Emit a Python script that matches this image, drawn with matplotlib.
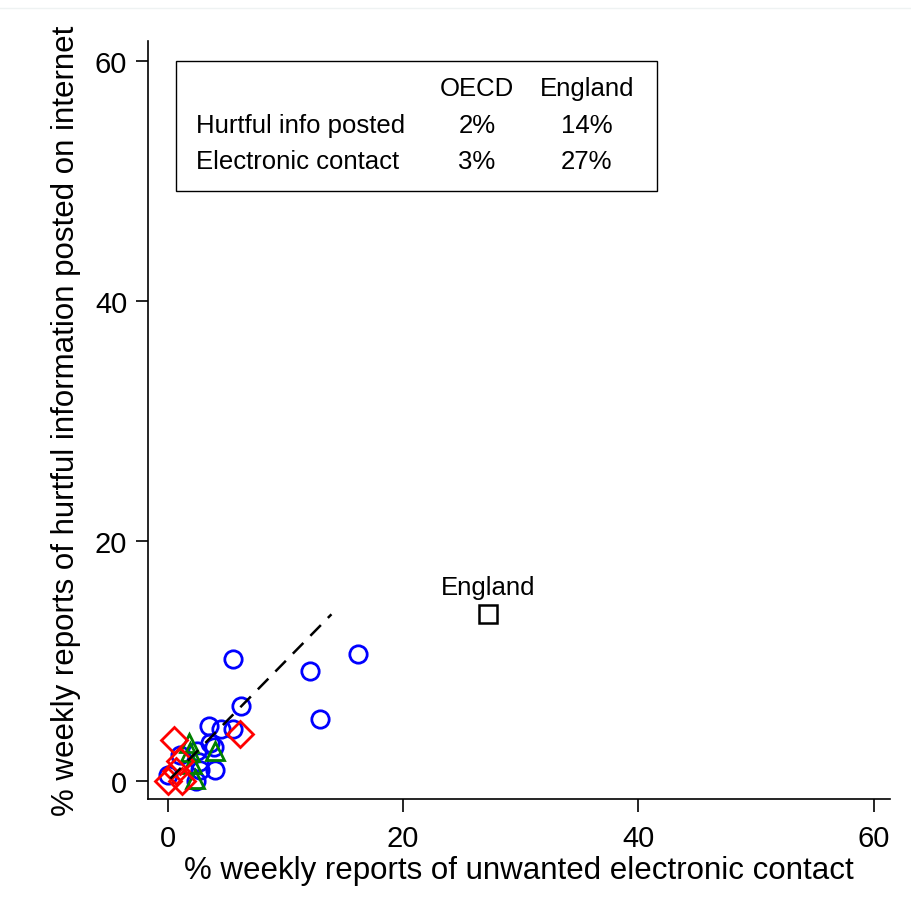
import matplotlib
matplotlib.use("Agg")
import matplotlib.pyplot as plt
from matplotlib.lines import Line2D

plt.rcParams['font.family'] = ['Liberation Sans', 'DejaVu Sans']

# Data (percent weekly reports)
blue_x = [5.5, 12.1, 16.2, 12.9, 6.2, 3.5, 4.55, 5.5, 3.55, 3.9, 4.0, 2.6, 2.7, 2.4, 0.0, 1.0, 2.5]
blue_y = [10.2, 9.2, 10.6, 5.2, 6.25, 4.6, 4.3, 4.3, 3.2, 2.8, 0.9, 1.6, 0.9, 0.0, 0.5, 2.2, 2.5]
green_x = [1.8, 4.0, 1.9, 2.0, 2.3]
green_y = [3.2, 2.5, 2.4, 1.4, 0.2]
red_x = [0.5, 6.1, 1.0, 0.0, 1.2, 0.7]
red_y = [3.4, 3.9, 1.7, 0.0, 0.0, 0.8]
england_x = [27.2]
england_y = [13.9]
fit_x = [0.2, 13.9]
fit_y = [0.2, 13.9]

ticks = [0, 20, 40, 60]
col_headers = ["OECD", "England"]
row_labels = ["Hurtful info posted", "Electronic contact"]
table_vals = [["2%", "14%"], ["3%", "27%"]]

fig = plt.figure(figsize=(9.12, 9.2), dpi=100)
ax = fig.add_axes([148/912, 1-800/920, (890-148)/912, (800-42)/920])

ms = 12.5
mew = 2.0
ax.plot(blue_x, blue_y, 'o', ms=ms, mfc='none', mec='#0000ff', mew=mew, zorder=3)
ax.plot(green_x, green_y, '^', ms=ms+1, mfc='none', mec='#008000', mew=mew, zorder=3)
ax.plot(red_x, red_y, 'D', ms=ms+0.5, mfc='none', mec='#ff0000', mew=mew, zorder=4)
ax.plot(england_x, england_y, 's', ms=ms, mfc='none', mec='black', mew=1.8, zorder=4)
ax.plot(fit_x, fit_y, color='black', lw=1.8, dashes=(6, 4), zorder=5)
ax.annotate("England", (england_x[0], england_y[0]), xytext=(0, 11),
            textcoords='offset points', ha='center', va='bottom', fontsize=18.5)

ax.set_xlim(-1.7, 61.4)
ax.set_ylim(-1.5, 61.7)
ax.set_xticks(ticks)
ax.set_yticks(ticks)
ax.tick_params(labelsize=21, length=9, width=1.2, direction='out', pad=6)
ax.tick_params(axis='x', pad=9)
ax.spines['top'].set_visible(False)
ax.spines['right'].set_visible(False)
for s in ['left', 'bottom']:
    ax.spines[s].set_linewidth(1.2)
ax.set_xlabel("% weekly reports of unwanted electronic contact", fontsize=22.5, labelpad=2)
ax.set_ylabel("% weekly reports of hurtful information posted on internet", fontsize=22.5, labelpad=10)

# Legend-like table box
box = plt.Rectangle((176/912, 1-192/920), (657-176)/912, (192-62)/920,
                    transform=fig.transFigure, fill=False, ec='black', lw=1.0, zorder=6)
fig.patches.append(box)
col_x = [477, 587]
row_y = [126, 162]
for j, h in enumerate(col_headers):
    fig.text(col_x[j]/912, 1-89/920, h, ha='center', va='center', fontsize=18.5)
for i, lab in enumerate(row_labels):
    fig.text(196/912, 1-row_y[i]/920, lab, ha='left', va='center', fontsize=18.5)
    for j in range(2):
        fig.text(col_x[j]/912, 1-row_y[i]/920, table_vals[i][j], ha='center', va='center', fontsize=18.5)

fig.add_artist(Line2D([0.0, 1.0], [1-9/920, 1-9/920], color='#eef2f2', lw=1.0, transform=fig.transFigure))

fig.savefig("out.png", dpi=100)
